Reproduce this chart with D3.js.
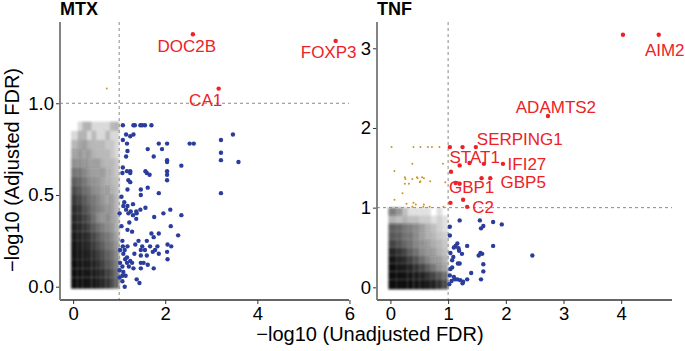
<!DOCTYPE html>
<html>
<head>
<meta charset="utf-8">
<script src="https://cdn.jsdelivr.net/npm/d3@7"></script>
<style>
  body { margin: 0; background: #fff; }
  svg text { font-family: "Liberation Sans", Arial, sans-serif; }
</style>
</head>
<body>
<div class="canva"></div>
<script>
// ---- data: MTX panel ----
const mtxRed = [
  {x: 2.60, y: 1.376, gene: "DOC2B"},
  {x: 5.70, y: 1.34, gene: "FOXP3"},
  {x: 3.16, y: 1.08, gene: "CA1"}
];
const mtxGold = [[0.73, 1.08]];
const mtxBlue = [
  [1.08,0.88],[1.31,0.88],[1.34,0.88],[1.46,0.88],[1.50,0.88],[1.56,0.88],[1.70,0.88],
  [1.15,0.83],[1.24,0.82],[1.31,0.83],[3.47,0.83],[1.08,0.80],[3.21,0.80],
  [1.17,0.78],[1.86,0.78],[2.04,0.78],[2.53,0.78],[2.62,0.78],[1.62,0.75],[1.93,0.75],
  [1.18,0.74],[3.21,0.73],[1.75,0.71],[1.15,0.71],[2.04,0.69],[2.04,0.68],[3.21,0.69],
  [3.59,0.68],[2.35,0.66],[1.08,0.65],[1.17,0.63],[1.24,0.63],[1.24,0.62],[1.07,0.62],
  [1.57,0.63],[1.60,0.62],[1.66,0.61],[2.04,0.63],[2.04,0.61],[2.04,0.58],[1.20,0.58],
  [1.24,0.57],[1.62,0.54],[1.18,0.53],[1.47,0.53],[1.47,0.50],[1.86,0.51],[3.21,0.51],
  [1.05,0.49],[1.11,0.46],[1.18,0.44],[1.09,0.44],[1.30,0.45],[1.15,0.42],[1.20,0.40],
  [1.25,0.41],[1.30,0.39],[1.37,0.41],[1.46,0.42],[1.38,0.40],[1.57,0.43],[1.01,0.40],
  [1.76,0.38],[1.96,0.40],[2.11,0.42],[2.35,0.39],[1.37,0.37],[1.22,0.35],[1.05,0.33],
  [2.12,0.33],[1.18,0.31],[1.28,0.30],[1.70,0.29],[1.86,0.29],[2.28,0.28],[1.75,0.27],
  [1.42,0.25],[1.60,0.25],[1.07,0.25],[1.08,0.22],[1.18,0.22],[1.02,0.20],[1.12,0.20],
  [1.35,0.23],[1.50,0.22],[1.67,0.22],[1.83,0.22],[2.05,0.23],[2.13,0.22],[1.47,0.20],
  [1.56,0.20],[1.78,0.20],[1.86,0.18],[1.09,0.18],[1.17,0.16],[1.33,0.18],[1.47,0.17],
  [1.60,0.17],[1.73,0.19],[2.04,0.19],[2.05,0.15],[1.13,0.15],[1.24,0.14],[1.47,0.13],
  [1.53,0.13],[1.62,0.12],[1.02,0.13],[1.17,0.13],[1.28,0.13],[1.07,0.11],[1.21,0.11],
  [1.31,0.10],[1.47,0.10],[1.75,0.10],[1.01,0.09],[1.09,0.08],[1.07,0.06],[1.14,0.06],
  [1.01,0.05],[1.38,0.04],[1.44,0.02],[1.07,0.03],[1.12,0.00]
];
// grey cloud: darkness per cell, x bins of 0.1 (0..1), y bins of 0.05 from 0 upward
const mtxGreyDensity = [
  [1.00,1.00,1.00,0.98,0.97,0.95,0.90,0.85,0.75,0.65],
  [1.00,1.00,0.98,0.97,0.95,0.92,0.88,0.80,0.72,0.60],
  [1.00,0.98,0.97,0.95,0.92,0.88,0.80,0.72,0.65,0.55],
  [0.98,0.97,0.95,0.92,0.88,0.82,0.75,0.68,0.60,0.50],
  [0.97,0.95,0.92,0.88,0.82,0.75,0.68,0.60,0.55,0.45],
  [0.95,0.93,0.90,0.85,0.78,0.70,0.62,0.58,0.50,0.40],
  [0.93,0.90,0.85,0.78,0.70,0.62,0.55,0.50,0.45,0.35],
  [0.90,0.87,0.80,0.72,0.62,0.50,0.45,0.50,0.42,0.30],
  [0.88,0.85,0.75,0.68,0.60,0.55,0.50,0.45,0.38,0.28],
  [0.82,0.78,0.70,0.62,0.58,0.52,0.45,0.40,0.38,0.28],
  [0.75,0.70,0.62,0.58,0.50,0.48,0.42,0.38,0.35,0.25],
  [0.68,0.65,0.58,0.50,0.48,0.45,0.40,0.35,0.28,0.25],
  [0.58,0.58,0.52,0.45,0.42,0.42,0.38,0.35,0.28,0.22],
  [0.48,0.48,0.45,0.38,0.38,0.38,0.30,0.28,0.28,0.22],
  [0.40,0.45,0.40,0.38,0.30,0.28,0.28,0.28,0.22,0.15],
  [0.28,0.40,0.38,0.30,0.28,0.28,0.28,0.22,0.22,0.15],
  [0.15,0.30,0.30,0.15,0.28,0.15,0.15,0.28,0.15,0.15],
  [0.00,0.15,0.30,0.30,0.15,0.15,0.15,0.15,0.28,0.30]
];

// ---- data: TNF panel ----
const tnfRed = [
  {x: 4.03, y: 3.17, gene: ""},
  {x: 4.65, y: 3.17, gene: "AIM2"},
  {x: 2.73, y: 2.15, gene: "ADAMTS2"},
  {x: 1.03, y: 1.76, gene: ""},
  {x: 1.25, y: 1.76, gene: ""},
  {x: 1.48, y: 1.76, gene: "SERPING1"},
  {x: 1.05, y: 1.45, gene: ""},
  {x: 1.20, y: 1.53, gene: "STAT1"},
  {x: 1.37, y: 1.56, gene: ""},
  {x: 1.62, y: 1.55, gene: ""},
  {x: 1.95, y: 1.55, gene: "IFI27"},
  {x: 1.13, y: 1.31, gene: ""},
  {x: 1.20, y: 1.30, gene: "GBP1"},
  {x: 1.58, y: 1.37, gene: ""},
  {x: 1.73, y: 1.37, gene: "GBP5"},
  {x: 1.04, y: 1.06, gene: ""},
  {x: 1.26, y: 1.10, gene: ""},
  {x: 1.33, y: 1.01, gene: "C2"}
];
const tnfGold = [
  [0.02,1.76],[0.40,1.76],[0.52,1.76],[0.65,1.76],[0.72,1.76],[0.85,1.76],
  [0.38,1.55],[0.91,1.55],[0.07,1.46],[0.25,1.38],[0.46,1.38],[0.55,1.38],
  [0.26,1.36],[0.38,1.36],[0.47,1.37],[0.58,1.37],[0.52,1.33],[0.69,1.33],
  [0.25,1.30],[0.32,1.30],[0.51,1.32],[0.95,1.32],[0.21,1.18],[0.07,1.10],
  [0.28,1.05],[0.40,1.06],[0.44,1.04],[0.58,1.04],[0.92,1.01],[0.38,1.01],
  [0.57,1.01],[0.68,1.01]
];
const tnfBlue = [
  [1.20,0.84],[1.55,0.84],[1.78,0.82],[1.93,0.79],[1.61,0.77],[1.57,0.74],[1.03,0.76],
  [1.03,0.65],[1.16,0.55],[1.13,0.52],[1.18,0.49],[1.19,0.46],[1.10,0.50],[1.33,0.52],
  [1.78,0.52],[2.46,0.40],[1.04,0.43],[1.09,0.38],[1.24,0.42],[1.56,0.43],[1.59,0.42],
  [1.53,0.40],[1.07,0.34],[1.17,0.30],[1.20,0.30],[1.61,0.29],[1.04,0.23],[1.07,0.25],
  [1.40,0.18],[1.61,0.20],[1.03,0.15],[1.10,0.13],[1.16,0.10],[1.21,0.09],[1.26,0.07],
  [1.33,0.10],[1.06,0.08],[1.12,0.10],[1.57,0.10],[1.02,0.04],[1.25,0.05]
];
// x bins of 0.1 (0..1), y bins of 0.1 from 0 upward
const tnfGreyDensity = [
  [1.00,1.00,1.00,1.00,0.98,0.97,0.95,0.92,0.85,0.75],
  [1.00,1.00,0.98,0.97,0.95,0.92,0.85,0.78,0.70,0.60],
  [1.00,0.97,0.95,0.92,0.85,0.78,0.68,0.58,0.48,0.40],
  [0.97,0.92,0.88,0.80,0.72,0.62,0.52,0.45,0.38,0.30],
  [0.90,0.85,0.78,0.68,0.60,0.50,0.45,0.38,0.30,0.25],
  [0.78,0.72,0.65,0.60,0.52,0.48,0.38,0.32,0.28,0.22],
  [0.70,0.68,0.60,0.58,0.50,0.42,0.35,0.28,0.22,0.18],
  [0.68,0.65,0.58,0.55,0.50,0.38,0.30,0.25,0.18,0.12],
  [0.30,0.25,0.30,0.25,0.25,0.20,0.20,0.12,0.18,0.12],
  [0.55,0.45,0.25,0.12,0.12,0.12,0.12,0.00,0.12,0.00]
];

const mtxXTicks = [0, 2, 4, 6], mtxYTicks = [0, 0.5, 1.0];
const tnfXTicks = [0, 1, 2, 3, 4], tnfYTicks = [0, 1, 2, 3];

// label offsets (px) from the labelled point, ggrepel-ish
const labelNudge = {
  DOC2B: [-6, 18], FOXP3: [-7, 17], CA1: [-13, 17],
  AIM2: [6, 21], ADAMTS2: [8, -3], SERPING1: [44, -2], STAT1: [15, -2],
  IFI27: [24, 6], GBP5: [33, 9.5], GBP1: [12, 9], C2: [16, 6]
};

const W = 685, H = 351;
const svg = d3.select(".canva").append("svg")
    .attr("width", W).attr("height", H);

const defs = svg.append("defs");
defs.append("filter").attr("id", "soft")
    .attr("x", "-10%").attr("y", "-10%").attr("width", "120%").attr("height", "120%")
  .append("feGaussianBlur").attr("stdDeviation", 1);

const red = "#ec2227", blue = "#2b3d9c", gold = "#c9952a";

function panel(opt) {
  const x = d3.scaleLinear().domain(opt.xDomain).range([opt.left, opt.right]);
  const y = d3.scaleLinear().domain(opt.yDomain).range([opt.bottom, opt.top]);
  const g = svg.append("g");

  // grey cloud
  const cloud = g.append("g").attr("filter", "url(#soft)");
  opt.density.forEach((row, ri) => {
    row.forEach((v, ci) => {
      if (v <= 0) return;
      const x0 = x(ci * 0.1) - (ci === 0 ? 2 : 0), x1 = x((ci + 1) * 0.1);
      const y0 = y(ri * opt.yStep) + (ri === 0 ? 2 : 0), y1 = y((ri + 1) * opt.yStep);
      cloud.append("rect")
          .attr("x", x0).attr("y", y1)
          .attr("width", x1 - x0).attr("height", y0 - y1)
          .attr("fill", "#111").attr("fill-opacity", v);
    });
  });

  // threshold lines
  g.append("line")
      .attr("x1", x(1)).attr("x2", x(1)).attr("y1", opt.top).attr("y2", opt.bottom)
      .attr("stroke", "#8a8a8a").attr("stroke-width", 1).attr("stroke-dasharray", "3,3");
  g.append("line")
      .attr("x1", opt.left).attr("x2", opt.right).attr("y1", y(1)).attr("y2", y(1))
      .attr("stroke", "#8a8a8a").attr("stroke-width", 1).attr("stroke-dasharray", "3,3");

  g.selectAll(".gold").data(opt.gold).join("circle")
      .attr("cx", d => x(d[0])).attr("cy", d => y(d[1])).attr("r", 1)
      .attr("fill", gold);
  g.selectAll(".blue").data(opt.blue).join("circle")
      .attr("cx", d => x(d[0])).attr("cy", d => y(d[1])).attr("r", 2.2)
      .attr("fill", blue);
  g.selectAll(".red").data(opt.red).join("circle")
      .attr("cx", d => x(d.x)).attr("cy", d => y(d.y)).attr("r", 2.2)
      .attr("fill", red);
  g.selectAll(".lab").data(opt.red.filter(d => d.gene)).join("text")
      .attr("x", d => x(d.x) + labelNudge[d.gene][0])
      .attr("y", d => y(d.y) + labelNudge[d.gene][1])
      .attr("text-anchor", "middle")
      .attr("font-size", 17).attr("fill", red)
      .text(d => d.gene);

  // axes
  const xa = g.append("g").attr("transform", `translate(0,${opt.bottom})`)
      .call(d3.axisBottom(x).tickValues(opt.xTicks).tickSize(4).tickPadding(3)
        .tickFormat(d3.format("d")));
  const ya = g.append("g").attr("transform", `translate(${opt.left},0)`)
      .call(d3.axisLeft(y).tickValues(opt.yTicks).tickSize(4).tickPadding(2)
        .tickFormat(opt.yFormat));
  [xa, ya].forEach(a => {
    a.select(".domain").attr("d", null);
    a.selectAll(".tick line").attr("stroke", "#333");
    a.selectAll(".tick text").attr("font-size", 18.5).attr("fill", "#000")
      .attr("font-family", "Liberation Sans, Arial, sans-serif");
  });
  g.append("line").attr("x1", opt.left).attr("x2", opt.right)
      .attr("y1", opt.bottom).attr("y2", opt.bottom)
      .attr("stroke", "#333").attr("stroke-width", 1.3);
  g.append("line").attr("x1", opt.left).attr("x2", opt.left)
      .attr("y1", opt.top).attr("y2", opt.bottom)
      .attr("stroke", "#777").attr("stroke-width", 1.8);

  g.append("text").attr("x", opt.left).attr("y", 15)
      .attr("font-size", 18).attr("font-weight", "bold")
      .text(opt.title);
}

panel({
  title: "MTX", left: 60, right: 349, top: 22, bottom: 300,
  xDomain: [-0.285, 5.99], yDomain: [-0.0725, 1.443],
  xTicks: mtxXTicks, yTicks: mtxYTicks, yFormat: d3.format(".1f"),
  red: mtxRed, blue: mtxBlue, gold: mtxGold, density: mtxGreyDensity, yStep: 0.05
});
panel({
  title: "TNF", left: 377, right: 672, top: 22, bottom: 300,
  xDomain: [-0.2325, 4.88], yDomain: [-0.159, 3.33],
  xTicks: tnfXTicks, yTicks: tnfYTicks, yFormat: d3.format("d"),
  red: tnfRed, blue: tnfBlue, gold: tnfGold, density: tnfGreyDensity, yStep: 0.1
});

svg.append("text").attr("x", 370).attr("y", 341)
    .attr("text-anchor", "middle").attr("font-size", 20)
    .text("\u2212log10 (Unadjusted FDR)");
svg.append("text")
    .attr("transform", "translate(19,170) rotate(-90)")
    .attr("text-anchor", "middle").attr("font-size", 20)
    .text("\u2212log10 (Adjusted FDR)");
</script>
</body>
</html>
